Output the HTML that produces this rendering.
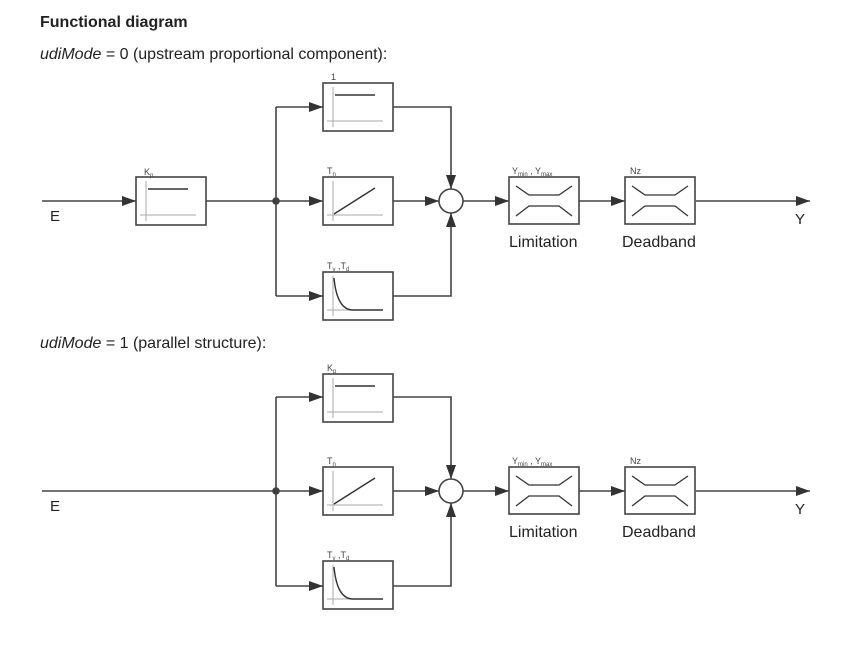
<!DOCTYPE html>
<html><head><meta charset="utf-8"><style>
body{margin:0;background:#fff;width:865px;height:654px;overflow:hidden}
svg{display:block}
text{font-family:"Liberation Sans",Arial,sans-serif}
</style></head><body>
<svg width="865" height="654" viewBox="0 0 865 654" xmlns="http://www.w3.org/2000/svg">
<defs>
<marker id="ar" markerWidth="14" markerHeight="10" refX="14" refY="5" orient="auto" markerUnits="userSpaceOnUse"><path d="M0,0 L14,5 L0,10 Z" fill="#333"/></marker>
<g id="bx"><rect x="0" y="0" width="70" height="48" fill="#fff" stroke="#444" stroke-width="1.6"/><line x1="10" y1="4" x2="10" y2="44" stroke="#aaa" stroke-width="1"/><line x1="4" y1="38" x2="60" y2="38" stroke="#aaa" stroke-width="1"/></g>
<g id="step"><use href="#bx"/><line x1="12" y1="12" x2="52" y2="12" stroke="#333" stroke-width="1.4"/></g>
<g id="ramp"><use href="#bx"/><line x1="11" y1="37" x2="52" y2="11" stroke="#333" stroke-width="1.4"/></g>
<g id="dec"><use href="#bx"/><path d="M11,6 Q14,38 30,38 L60,38" fill="none" stroke="#333" stroke-width="1.4"/></g>
<g id="lim"><rect x="0" y="0" width="70" height="47" fill="#fff" stroke="#444" stroke-width="1.6"/><path d="M7,9 L20,18 L50,18 L63,9 M7,39 L20,29 L50,29 L63,39" fill="none" stroke="#333" stroke-width="1.3"/></g>
</defs>
<text x="40" y="27" font-size="16" font-weight="bold" fill="#222">Functional diagram</text>
<text x="40" y="59" font-size="16" fill="#222"><tspan font-style="italic">udiMode</tspan> = 0 (upstream proportional component):</text>
<text x="40" y="348" font-size="16" fill="#222"><tspan font-style="italic">udiMode</tspan> = 1 (parallel structure):</text>

<g id="d1" stroke="#444" stroke-width="1.6" fill="none">
<line x1="42" y1="201" x2="136" y2="201" marker-end="url(#ar)"/>
<use href="#step" x="136" y="177"/>
<line x1="206" y1="201" x2="276" y2="201"/>
<circle cx="276" cy="201" r="3" fill="#333"/>
<line x1="276" y1="107" x2="276" y2="296"/>
<line x1="276" y1="107" x2="323" y2="107" marker-end="url(#ar)"/>
<line x1="276" y1="201" x2="323" y2="201" marker-end="url(#ar)"/>
<line x1="276" y1="296" x2="323" y2="296" marker-end="url(#ar)"/>
<use href="#step" x="323" y="83"/>
<use href="#ramp" x="323" y="177"/>
<use href="#dec" x="323" y="272"/>
<polyline points="393,107 451,107 451,189" marker-end="url(#ar)"/>
<polyline points="393,296 451,296 451,213" marker-end="url(#ar)"/>
<line x1="393" y1="201" x2="439" y2="201" marker-end="url(#ar)"/>
<circle cx="451" cy="201" r="12" fill="#fff"/>
<line x1="463" y1="201" x2="509" y2="201" marker-end="url(#ar)"/>
<use href="#lim" x="509" y="177"/>
<line x1="579" y1="201" x2="625" y2="201" marker-end="url(#ar)"/>
<use href="#lim" x="625" y="177"/>
<line x1="696" y1="201" x2="810" y2="201" marker-end="url(#ar)"/>
</g>
<g font-size="9" fill="#444">
<text x="144" y="175">K<tspan font-size="6" dy="2">p</tspan></text>
<text x="331" y="80">1</text>
<text x="327" y="174">T<tspan font-size="6" dy="2">n</tspan></text>
<text x="327" y="269">T<tspan font-size="6" dy="2">v</tspan><tspan dy="-2"> ,T</tspan><tspan font-size="6" dy="2">d</tspan></text>
<text x="512" y="174">Y<tspan font-size="6" dy="2">min</tspan><tspan dy="-2"> , Y</tspan><tspan font-size="6" dy="2">max</tspan></text>
<text x="630" y="174">Nz</text>
</g>
<text x="50" y="221" font-size="15" fill="#222">E</text>
<text x="795" y="224" font-size="15" fill="#222">Y</text>
<text x="509" y="247" font-size="16" fill="#222">Limitation</text>
<text x="622" y="247" font-size="16" fill="#222">Deadband</text>

<g transform="translate(0,290)">
<g stroke="#444" stroke-width="1.6" fill="none">
<line x1="42" y1="201" x2="276" y2="201"/>
<circle cx="276" cy="201" r="3" fill="#333"/>
<line x1="276" y1="107" x2="276" y2="296"/>
<line x1="276" y1="107" x2="323" y2="107" marker-end="url(#ar)"/>
<line x1="276" y1="201" x2="323" y2="201" marker-end="url(#ar)"/>
<line x1="276" y1="296" x2="323" y2="296" marker-end="url(#ar)"/>
<use href="#step" x="323" y="84"/>
<use href="#ramp" x="323" y="177"/>
<use href="#dec" x="323" y="271"/>
<polyline points="393,107 451,107 451,189" marker-end="url(#ar)"/>
<polyline points="393,296 451,296 451,213" marker-end="url(#ar)"/>
<line x1="393" y1="201" x2="439" y2="201" marker-end="url(#ar)"/>
<circle cx="451" cy="201" r="12" fill="#fff"/>
<line x1="463" y1="201" x2="509" y2="201" marker-end="url(#ar)"/>
<use href="#lim" x="509" y="177"/>
<line x1="579" y1="201" x2="625" y2="201" marker-end="url(#ar)"/>
<use href="#lim" x="625" y="177"/>
<line x1="696" y1="201" x2="810" y2="201" marker-end="url(#ar)"/>
</g>
<g font-size="9" fill="#444">
<text x="327" y="81">K<tspan font-size="6" dy="2">p</tspan></text>
<text x="327" y="174">T<tspan font-size="6" dy="2">n</tspan></text>
<text x="327" y="268">T<tspan font-size="6" dy="2">v</tspan><tspan dy="-2"> ,T</tspan><tspan font-size="6" dy="2">d</tspan></text>
<text x="512" y="174">Y<tspan font-size="6" dy="2">min</tspan><tspan dy="-2"> , Y</tspan><tspan font-size="6" dy="2">max</tspan></text>
<text x="630" y="174">Nz</text>
</g>
<text x="50" y="221" font-size="15" fill="#222">E</text>
<text x="795" y="224" font-size="15" fill="#222">Y</text>
<text x="509" y="247" font-size="16" fill="#222">Limitation</text>
<text x="622" y="247" font-size="16" fill="#222">Deadband</text>
</g>
</svg>
</body></html>
